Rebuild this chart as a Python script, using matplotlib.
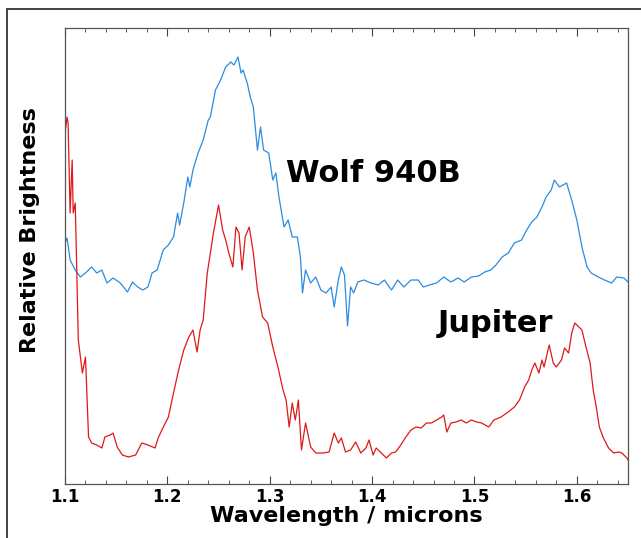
import matplotlib
matplotlib.use('Agg')
import matplotlib.pyplot as plt
from matplotlib.patches import Rectangle
from matplotlib.ticker import MultipleLocator
import numpy as np

# Wolf 940B (blue), relative brightness in arbitrary units
wolf_wl = [1.100, 1.102, 1.105, 1.110, 1.115, 1.120, 1.126, 1.131, 1.136, 1.141,
           1.147, 1.154, 1.161, 1.166, 1.171, 1.176, 1.181, 1.185, 1.190, 1.193,
           1.196, 1.201, 1.206, 1.210, 1.212, 1.216, 1.220, 1.222, 1.225, 1.230,
           1.235, 1.240, 1.242, 1.247, 1.252, 1.257, 1.262, 1.265, 1.269, 1.272,
           1.274, 1.278, 1.281, 1.284, 1.288, 1.291, 1.294, 1.299, 1.303, 1.306,
           1.309, 1.314, 1.318, 1.322, 1.327, 1.330, 1.332, 1.335, 1.340, 1.345,
           1.350, 1.355, 1.360, 1.363, 1.367, 1.370, 1.373, 1.376, 1.379, 1.382,
           1.386, 1.392, 1.399, 1.406, 1.412, 1.419, 1.425, 1.431, 1.438, 1.445,
           1.450, 1.456, 1.463, 1.470, 1.477, 1.484, 1.490, 1.497, 1.504, 1.510,
           1.516, 1.521, 1.527, 1.533, 1.539, 1.546, 1.551, 1.556, 1.561, 1.566,
           1.570, 1.575, 1.578, 1.583, 1.590, 1.595, 1.600, 1.605, 1.610, 1.614,
           1.621, 1.627, 1.634, 1.639, 1.646, 1.650]
wolf_flux = [241, 246, 224, 214, 207, 211, 217, 211, 214, 201,
             206, 201, 192, 202, 197, 194, 197, 211, 214, 224,
             234, 239, 247, 271, 259, 281, 307, 297, 314, 331,
             344, 364, 367, 394, 404, 417, 422, 419, 427, 411,
             414, 401, 387, 377, 334, 357, 334, 331, 304, 311,
             287, 257, 264, 247, 247, 227, 191, 214, 201, 207,
             194, 191, 197, 177, 204, 217, 209, 158, 197, 191,
             202, 204, 201, 199, 204, 194, 204, 197, 204, 204,
             197, 199, 201, 207, 202, 206, 202, 207, 208, 212,
             214, 219, 227, 231, 241, 244, 254, 262, 267, 277,
             287, 294, 304, 297, 301, 284, 264, 237, 217, 211,
             207, 204, 201, 207, 206, 202]

# Jupiter (red)
jup_wl = [1.100, 1.102, 1.103, 1.105, 1.107, 1.108, 1.110, 1.113, 1.117, 1.120,
          1.123, 1.126, 1.131, 1.136, 1.139, 1.144, 1.147, 1.151, 1.156, 1.162,
          1.169, 1.175, 1.181, 1.188, 1.191, 1.196, 1.201, 1.206, 1.211, 1.216,
          1.221, 1.225, 1.229, 1.232, 1.235, 1.239, 1.242, 1.245, 1.250, 1.254,
          1.257, 1.260, 1.264, 1.267, 1.270, 1.273, 1.276, 1.280, 1.284, 1.288,
          1.293, 1.298, 1.303, 1.308, 1.313, 1.316, 1.319, 1.322, 1.325, 1.328,
          1.331, 1.335, 1.340, 1.345, 1.352, 1.358, 1.363, 1.367, 1.370, 1.374,
          1.379, 1.384, 1.389, 1.394, 1.397, 1.401, 1.404, 1.409, 1.414, 1.419,
          1.423, 1.428, 1.433, 1.438, 1.443, 1.448, 1.453, 1.458, 1.463, 1.468,
          1.470, 1.473, 1.477, 1.482, 1.487, 1.492, 1.497, 1.502, 1.507, 1.514,
          1.519, 1.526, 1.533, 1.539, 1.544, 1.549, 1.553, 1.556, 1.559, 1.563,
          1.566, 1.568, 1.573, 1.577, 1.580, 1.585, 1.588, 1.592, 1.595, 1.598,
          1.602, 1.605, 1.608, 1.613, 1.616, 1.619, 1.622, 1.626, 1.631, 1.636,
          1.641, 1.644, 1.649, 1.650]
jup_flux = [351, 367, 361, 271, 324, 271, 281, 144, 111, 127,
            47, 41, 39, 36, 47, 49, 51, 37, 29, 27,
            29, 41, 39, 36, 46, 57, 67, 91, 114, 134,
            147, 154, 132, 154, 164, 211, 231, 251, 279, 254,
            244, 231, 217, 257, 251, 214, 247, 257, 231, 194,
            167, 161, 137, 117, 94, 84, 57, 81, 64, 84,
            34, 61, 37, 31, 31, 32, 51, 41, 46, 32,
            34, 42, 31, 36, 44, 29, 36, 31, 26, 31,
            32, 39, 47, 54, 57, 56, 61, 61, 64, 67,
            69, 52, 61, 62, 64, 61, 64, 62, 61, 57,
            64, 67, 72, 77, 84, 97, 104, 114, 121, 111,
            124, 117, 139, 121, 117, 124, 136, 131, 151, 161,
            157, 154, 141, 121, 94, 77, 57, 46, 36, 31,
            32, 31, 26, 24]

tick_pos = [1.1, 1.2, 1.3, 1.4, 1.5, 1.6]

fig = plt.figure(figsize=(6.41, 5.38), dpi=100)
ax = fig.add_axes([65/641, 1-484/538, (628-65)/641, (484-28)/538])

ax.plot(wolf_wl, wolf_flux, color='#2a8ce0', lw=0.9)
ax.plot(jup_wl, jup_flux, color='#e01818', lw=0.9)

ax.set_xlim(1.1, 1.65)
ax.set_ylim(0, 456)
ax.set_yticks([])
ax.set_xticks(tick_pos)
ax.set_xticklabels([str(t) for t in tick_pos], fontweight='bold', fontsize=12)
ax.xaxis.set_minor_locator(MultipleLocator(0.02))
ax.tick_params(axis='x', which='both', direction='in', top=True, pad=3)
ax.tick_params(axis='x', which='major', length=6, color='#444444')
ax.tick_params(axis='x', which='minor', length=3, color='#444444')
for s in ax.spines.values():
    s.set_color('#555555')
    s.set_linewidth(0.9)

ax.set_xlabel('Wavelength / microns', fontsize=16, fontweight='bold', labelpad=0)
ax.set_ylabel('Relative Brightness', fontsize=16, fontweight='bold')
ax.yaxis.set_label_coords(-0.045, 0.557)

ax.text(1.316, 302, 'Wolf 940B', fontsize=22, fontweight='bold', ha='left', va='baseline')
ax.text(1.464, 152, 'Jupiter', fontsize=22, fontweight='bold', ha='left', va='baseline')

# outer frame of the picture
fig.patches.append(Rectangle((7/641, -0.02), 1.1, 1-9/538+0.02, transform=fig.transFigure,
                             fill=False, edgecolor='#222222', lw=1.2))

fig.savefig('out.png', dpi=100)
